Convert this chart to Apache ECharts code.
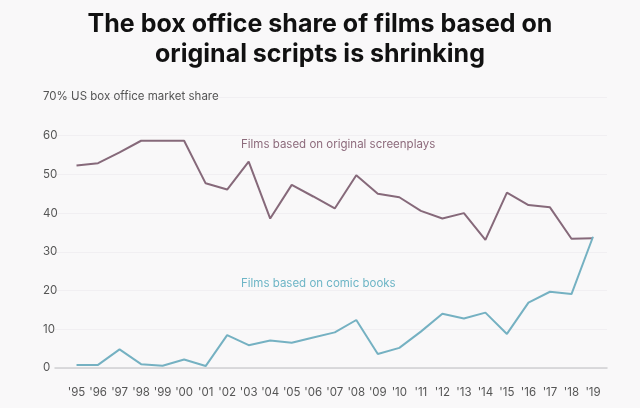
<!DOCTYPE html>
<html><head><meta charset="utf-8">
<script src="https://cdn.jsdelivr.net/npm/echarts@6/dist/echarts.min.js"></script>
<style>html,body{margin:0;padding:0;background:#f9f8f9;}#c{width:640px;height:408px;}</style>
</head><body><div id="c"></div>
<script>
var years = [1995,1996,1997,1998,1999,2000,2001,2002,2003,2004,2005,2006,2007,2008,2009,2010,2011,2012,2013,2014,2015,2016,2017,2018,2019];
var originalScreenplays = [52.3,52.9,55.7,58.7,58.7,58.7,47.7,46.1,53.3,38.6,47.3,44.3,41.2,49.8,45.0,44.1,40.6,38.6,40.0,33.1,45.3,42.1,41.5,33.4,33.5];
var comicBooks = [0.8,0.8,4.8,1.0,0.6,2.2,0.5,8.5,5.9,7.1,6.5,7.9,9.2,12.4,3.6,5.2,9.4,14.0,12.8,14.3,8.8,16.9,19.7,19.1,33.9];
var yTicks = [0,10,20,30,40,50,60,70];
var titleText = 'The box office share of films based on\noriginal scripts is shrinking';
var labelOriginal = 'Films based on original screenplays';
var labelComic = 'Films based on comic books';

function pairs(vals){ return years.map(function(y,i){ return [y, vals[i]]; }); }

var chart = echarts.init(document.getElementById('c'), null, {renderer:'canvas'});
chart.setOption({
  backgroundColor:'#f9f8f9',
  animation:false,
  title:{
    text:titleText, left:'center', top:4,
    textStyle:{fontFamily:'Inter', fontWeight:'bold', fontSize:25, lineHeight:30, color:'#111'}
  },
  grid:{left:55, right:33, top:97, bottom:40, containLabel:false},
  xAxis:{
    type:'value', min:1994, max:2019.65, interval:1,
    axisLine:{show:true, lineStyle:{color:'#cfcfd2', width:1.5}},
    axisTick:{show:false},
    splitLine:{show:false},
    axisLabel:{
      margin:19, color:'#555', fontSize:11.5, fontFamily:'Inter',
      showMaxLabel:false,
      formatter:function(v){ if(v<1995 || v>2019 || v%1!==0) return ''; return "'" + String(v).slice(2); }
    }
  },
  yAxis:{
    type:'value', min:yTicks[0], max:yTicks[yTicks.length-1], interval:10,
    axisLine:{show:false}, axisTick:{show:false},
    splitLine:{show:true, lineStyle:{color:'#f1eff2', width:1}},
    axisLabel:{
      inside:false, align:'left', margin:12, color:'#555', fontSize:11.5, fontFamily:'Inter',
      formatter:function(v){ return v===70 ? '70% US box office market share' : String(v); }
    }
  },
  graphic:[
    {type:'text', left:241, top:139, style:{text:labelOriginal, fill:'#8d6b7c', fontSize:11.5, fontFamily:'Inter'}},
    {type:'text', left:241, top:278, style:{text:labelComic, fill:'#6db5c6', fontSize:11.5, fontFamily:'Inter'}}
  ],
  series:[
    {type:'line', data:pairs(originalScreenplays), symbol:'none', lineStyle:{color:'#86697a', width:2}},
    {type:'line', data:pairs(comicBooks), symbol:'none', lineStyle:{color:'#75b1c2', width:2}}
  ]
});
</script></body></html>
